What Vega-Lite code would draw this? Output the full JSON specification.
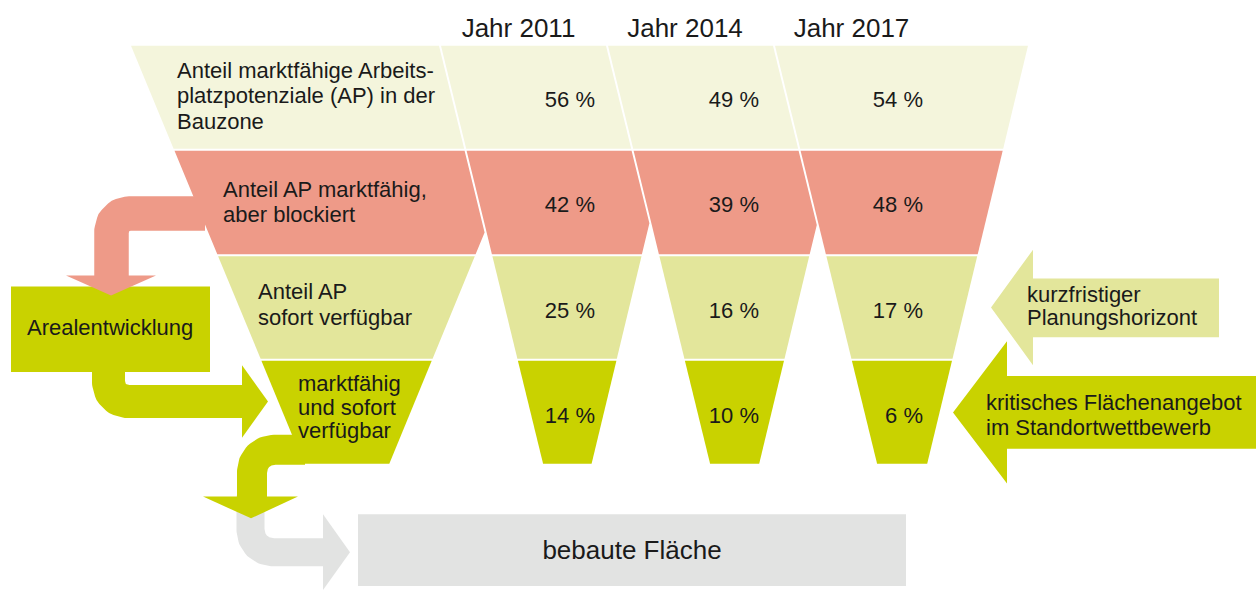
{
  "$schema": "https://vega.github.io/schema/vega-lite/v6.json",
  "width": 1258,
  "height": 590,
  "autosize": {"type": "fit", "contains": "padding"},
  "padding": 0,
  "background": "white",
  "config": {"view": {"stroke": null}, "text": {"font": "Liberation Sans", "color": "#1a1a1a"}},
  "datasets": {
    "pieces": [
      {"piece": "L1", "band": "b1", "y": 46, "x": 131, "x2": 439},
      {"piece": "L1", "band": "b1", "y": 149.5, "x": 173.6, "x2": 464.2},
      {"piece": "L2", "band": "b2", "y": 151.5, "x": 174.5, "x2": 464.6},
      {"piece": "L2", "band": "b2", "y": 233.6, "x": 208.3, "x2": 484.6},
      {"piece": "L2", "band": "b2", "y": 255.5, "x": 217.3, "x2": 475.6},
      {"piece": "L3", "band": "b3", "y": 257.5, "x": 218.1, "x2": 474.8},
      {"piece": "L3", "band": "b3", "y": 360.5, "x": 260.6, "x2": 432.6},
      {"piece": "L4", "band": "b4", "y": 362.5, "x": 261.4, "x2": 431.7},
      {"piece": "L4", "band": "b4", "y": 466, "x": 304, "x2": 389.3},
      {"piece": "A1", "band": "b1", "y": 46, "x": 441, "x2": 606},
      {"piece": "A1", "band": "b1", "y": 149.5, "x": 466.2, "x2": 631.2},
      {"piece": "A2", "band": "b2", "y": 151.5, "x": 466.6, "x2": 631.6},
      {"piece": "A2", "band": "b2", "y": 224.4, "x": 484.4, "x2": 649.4},
      {"piece": "A2", "band": "b2", "y": 255.5, "x": 491.9, "x2": 641.9},
      {"piece": "A3", "band": "b3", "y": 257.5, "x": 492.4, "x2": 641.5},
      {"piece": "A3", "band": "b3", "y": 360.5, "x": 517.4, "x2": 616.8},
      {"piece": "A4", "band": "b4", "y": 362.5, "x": 517.9, "x2": 616.4},
      {"piece": "A4", "band": "b4", "y": 466, "x": 543.1, "x2": 591.6},
      {"piece": "B1", "band": "b1", "y": 46, "x": 608, "x2": 773},
      {"piece": "B1", "band": "b1", "y": 149.5, "x": 633.2, "x2": 798.2},
      {"piece": "B2", "band": "b2", "y": 151.5, "x": 633.6, "x2": 798.6},
      {"piece": "B2", "band": "b2", "y": 226.1, "x": 651.8, "x2": 816.8},
      {"piece": "B2", "band": "b2", "y": 255.5, "x": 658.9, "x2": 809.7},
      {"piece": "B3", "band": "b3", "y": 257.5, "x": 659.4, "x2": 809.2},
      {"piece": "B3", "band": "b3", "y": 360.5, "x": 684.4, "x2": 784.5},
      {"piece": "B4", "band": "b4", "y": 362.5, "x": 684.9, "x2": 784},
      {"piece": "B4", "band": "b4", "y": 466, "x": 710.1, "x2": 759.2},
      {"piece": "C1", "band": "b1", "y": 46, "x": 775, "x2": 1028},
      {"piece": "C1", "band": "b1", "y": 149.5, "x": 800.2, "x2": 1003.2},
      {"piece": "C2", "band": "b2", "y": 151.5, "x": 800.6, "x2": 1002.7},
      {"piece": "C2", "band": "b2", "y": 255.5, "x": 825.9, "x2": 977.7},
      {"piece": "C3", "band": "b3", "y": 257.5, "x": 826.4, "x2": 977.2},
      {"piece": "C3", "band": "b3", "y": 360.5, "x": 851.4, "x2": 952.5},
      {"piece": "C4", "band": "b4", "y": 362.5, "x": 851.9, "x2": 952},
      {"piece": "C4", "band": "b4", "y": 466, "x": 877.1, "x2": 927.2}
    ],
    "boxes": [
      {"name": "Arealentwicklung", "band": "b4", "x": 11, "x2": 210, "y": 288, "y2": 374},
      {"name": "bebaute Fläche", "band": "grau", "x": 358, "x2": 906, "y": 517, "y2": 589}
    ],
    "vshapes": [
      {"shape": "grauHead", "band": "grau", "x": 323, "y": 517, "y2": 593},
      {"shape": "grauHead", "band": "grau", "x": 350, "y": 555, "y2": 555},
      {"shape": "green1Head", "band": "b4", "x": 242, "y": 367, "y2": 440},
      {"shape": "green1Head", "band": "b4", "x": 268, "y": 403.5, "y2": 403.5},
      {"shape": "kurz", "band": "b3", "x": 991, "y": 309, "y2": 309},
      {"shape": "kurz", "band": "b3", "x": 1033, "y": 251, "y2": 367},
      {"shape": "kurz", "band": "b3", "x": 1033.01, "y": 280, "y2": 339},
      {"shape": "kurz", "band": "b3", "x": 1219, "y": 280, "y2": 339},
      {"shape": "krit", "band": "b4", "x": 953, "y": 414.5, "y2": 414.5},
      {"shape": "krit", "band": "b4", "x": 1007, "y": 343, "y2": 486},
      {"shape": "krit", "band": "b4", "x": 1007.01, "y": 378, "y2": 451},
      {"shape": "krit", "band": "b4", "x": 1256, "y": 378, "y2": 451}
    ],
    "hheads": [
      {"shape": "salmonHead", "band": "b2", "y": 277, "x": 66, "x2": 156},
      {"shape": "salmonHead", "band": "b2", "y": 297, "x": 111, "x2": 111},
      {"shape": "green2Head", "band": "b4", "y": 499, "x": 203, "x2": 298},
      {"shape": "green2Head", "band": "b4", "y": 521, "x": 251, "x2": 251}
    ],
    "arrows": [
      {"arrow": "salmon", "band": "b2", "i": 0, "x": 205, "y": 214.5},
      {"arrow": "salmon", "band": "b2", "i": 1, "x": 129, "y": 214.5},
      {"arrow": "salmon", "band": "b2", "i": 2, "x": 120.25, "y": 216.8},
      {"arrow": "salmon", "band": "b2", "i": 3, "x": 113.8, "y": 223.25},
      {"arrow": "salmon", "band": "b2", "i": 4, "x": 111.5, "y": 232},
      {"arrow": "salmon", "band": "b2", "i": 5, "x": 111.5, "y": 280},
      {"arrow": "green1", "band": "b4", "i": 0, "x": 108.5, "y": 372},
      {"arrow": "green1", "band": "b4", "i": 1, "x": 108.5, "y": 385},
      {"arrow": "green1", "band": "b4", "i": 2, "x": 111, "y": 394.25},
      {"arrow": "green1", "band": "b4", "i": 3, "x": 117.75, "y": 401},
      {"arrow": "green1", "band": "b4", "i": 4, "x": 127, "y": 403.5},
      {"arrow": "green1", "band": "b4", "i": 5, "x": 244, "y": 403.5},
      {"arrow": "green2", "band": "b4", "i": 0, "x": 305, "y": 452},
      {"arrow": "green2", "band": "b4", "i": 1, "x": 274, "y": 452},
      {"arrow": "green2", "band": "b4", "i": 2, "x": 265.6, "y": 453.7},
      {"arrow": "green2", "band": "b4", "i": 3, "x": 258.4, "y": 458.4},
      {"arrow": "green2", "band": "b4", "i": 4, "x": 253.7, "y": 465.6},
      {"arrow": "green2", "band": "b4", "i": 5, "x": 252, "y": 474},
      {"arrow": "green2", "band": "b4", "i": 6, "x": 252, "y": 501},
      {"arrow": "grau", "band": "grau", "i": 0, "x": 250.5, "y": 498},
      {"arrow": "grau", "band": "grau", "i": 1, "x": 250.5, "y": 533},
      {"arrow": "grau", "band": "grau", "i": 2, "x": 252.2, "y": 541.4},
      {"arrow": "grau", "band": "grau", "i": 3, "x": 256.9, "y": 548.6},
      {"arrow": "grau", "band": "grau", "i": 4, "x": 264.1, "y": 553.3},
      {"arrow": "grau", "band": "grau", "i": 5, "x": 272.5, "y": 555},
      {"arrow": "grau", "band": "grau", "i": 6, "x": 325, "y": 555}
    ],
    "labels": [
      {"text": "Anteil marktfähige Arbeits-", "x": 177, "y": 78},
      {"text": "platzpotenziale (AP) in der", "x": 177, "y": 104},
      {"text": "Bauzone", "x": 177, "y": 130},
      {"text": "Anteil AP marktfähig,", "x": 223, "y": 198},
      {"text": "aber blockiert", "x": 223, "y": 223},
      {"text": "Anteil AP", "x": 258, "y": 301},
      {"text": "sofort verfügbar", "x": 258, "y": 327},
      {"text": "marktfähig", "x": 298, "y": 393},
      {"text": "und sofort", "x": 298, "y": 417},
      {"text": "verfügbar", "x": 298, "y": 440},
      {"text": "Arealentwicklung", "x": 27, "y": 337},
      {"text": "kurzfristiger", "x": 1027, "y": 304},
      {"text": "Planungshorizont", "x": 1027, "y": 327},
      {"text": "kritisches Flächenangebot", "x": 986, "y": 412},
      {"text": "im Standortwettbewerb", "x": 986, "y": 437}
    ],
    "titles": [
      {"text": "Jahr 2011", "x": 518.5, "y": 37},
      {"text": "Jahr 2014", "x": 685, "y": 37},
      {"text": "Jahr 2017", "x": 851.5, "y": 37},
      {"text": "bebaute Fläche", "x": 632, "y": 562}
    ],
    "werte": [
      {"Jahr": "2011", "Stufe": "b1", "Anteil": 56},
      {"Jahr": "2014", "Stufe": "b1", "Anteil": 49},
      {"Jahr": "2017", "Stufe": "b1", "Anteil": 54},
      {"Jahr": "2011", "Stufe": "b2", "Anteil": 42},
      {"Jahr": "2014", "Stufe": "b2", "Anteil": 39},
      {"Jahr": "2017", "Stufe": "b2", "Anteil": 48},
      {"Jahr": "2011", "Stufe": "b3", "Anteil": 25},
      {"Jahr": "2014", "Stufe": "b3", "Anteil": 16},
      {"Jahr": "2017", "Stufe": "b3", "Anteil": 17},
      {"Jahr": "2011", "Stufe": "b4", "Anteil": 14},
      {"Jahr": "2014", "Stufe": "b4", "Anteil": 10},
      {"Jahr": "2017", "Stufe": "b4", "Anteil": 6}
    ]
  },
  "resolve": {"scale": {"x": "independent", "y": "independent"}},
  "layer": [
    {
      "layer": [
        {
          "data": {"name": "pieces"},
          "mark": {"type": "area", "orient": "horizontal"},
          "encoding": {
            "y": {"field": "y", "type": "quantitative", "scale": {"domain": [0, 590], "nice": false, "zero": false, "reverse": true}, "axis": null},
            "x": {"field": "x", "type": "quantitative", "stack": null, "scale": {"domain": [0, 1258], "nice": false, "zero": false}, "axis": null},
            "x2": {"field": "x2"},
            "detail": {"field": "piece"},
            "color": {"field": "band", "type": "nominal", "scale": {"domain": ["b1", "b2", "b3", "b4", "grau"], "range": ["#F4F5DC", "#EE9A88", "#E3E69B", "#C9D200", "#E2E3E2"]}, "legend": null}
          }
        },
        {
          "data": {"name": "boxes"},
          "mark": {"type": "rect"},
          "encoding": {
            "x": {"field": "x", "type": "quantitative", "scale": {"domain": [0, 1258], "nice": false, "zero": false}, "axis": null},
            "x2": {"field": "x2"},
            "y": {"field": "y", "type": "quantitative", "scale": {"domain": [0, 590], "nice": false, "zero": false, "reverse": true}, "axis": null},
            "y2": {"field": "y2"},
            "color": {"field": "band", "type": "nominal", "legend": null}
          }
        },
        {
          "data": {"name": "arrows"},
          "transform": [{"filter": "datum.arrow === 'grau'"}],
          "mark": {"type": "line", "strokeWidth": 28, "strokeCap": "butt", "strokeJoin": "round"},
          "encoding": {
            "x": {"field": "x", "type": "quantitative", "scale": {"domain": [0, 1258], "nice": false, "zero": false}, "axis": null},
            "y": {"field": "y", "type": "quantitative", "scale": {"domain": [0, 590], "nice": false, "zero": false, "reverse": true}, "axis": null},
            "order": {"field": "i"},
            "color": {"field": "band", "type": "nominal", "legend": null}
          }
        },
        {
          "data": {"name": "vshapes"},
          "mark": {"type": "area", "orient": "vertical"},
          "encoding": {
            "x": {"field": "x", "type": "quantitative", "scale": {"domain": [0, 1258], "nice": false, "zero": false}, "axis": null},
            "y": {"field": "y", "type": "quantitative", "stack": null, "scale": {"domain": [0, 590], "nice": false, "zero": false, "reverse": true}, "axis": null},
            "y2": {"field": "y2"},
            "detail": {"field": "shape"},
            "color": {"field": "band", "type": "nominal", "legend": null}
          }
        },
        {
          "data": {"name": "arrows"},
          "transform": [{"filter": "datum.arrow === 'salmon'"}],
          "mark": {"type": "line", "strokeWidth": 34.5, "strokeCap": "butt", "strokeJoin": "round"},
          "encoding": {
            "x": {"field": "x", "type": "quantitative", "scale": {"domain": [0, 1258], "nice": false, "zero": false}, "axis": null},
            "y": {"field": "y", "type": "quantitative", "scale": {"domain": [0, 590], "nice": false, "zero": false, "reverse": true}, "axis": null},
            "order": {"field": "i"},
            "color": {"field": "band", "type": "nominal", "legend": null}
          }
        },
        {
          "data": {"name": "arrows"},
          "transform": [{"filter": "datum.arrow === 'green1'"}],
          "mark": {"type": "line", "strokeWidth": 33, "strokeCap": "butt", "strokeJoin": "round"},
          "encoding": {
            "x": {"field": "x", "type": "quantitative", "scale": {"domain": [0, 1258], "nice": false, "zero": false}, "axis": null},
            "y": {"field": "y", "type": "quantitative", "scale": {"domain": [0, 590], "nice": false, "zero": false, "reverse": true}, "axis": null},
            "order": {"field": "i"},
            "color": {"field": "band", "type": "nominal", "legend": null}
          }
        },
        {
          "data": {"name": "arrows"},
          "transform": [{"filter": "datum.arrow === 'green2'"}],
          "mark": {"type": "line", "strokeWidth": 30, "strokeCap": "butt", "strokeJoin": "round"},
          "encoding": {
            "x": {"field": "x", "type": "quantitative", "scale": {"domain": [0, 1258], "nice": false, "zero": false}, "axis": null},
            "y": {"field": "y", "type": "quantitative", "scale": {"domain": [0, 590], "nice": false, "zero": false, "reverse": true}, "axis": null},
            "order": {"field": "i"},
            "color": {"field": "band", "type": "nominal", "legend": null}
          }
        },
        {
          "data": {"name": "hheads"},
          "mark": {"type": "area", "orient": "horizontal"},
          "encoding": {
            "y": {"field": "y", "type": "quantitative", "scale": {"domain": [0, 590], "nice": false, "zero": false, "reverse": true}, "axis": null},
            "x": {"field": "x", "type": "quantitative", "stack": null, "scale": {"domain": [0, 1258], "nice": false, "zero": false}, "axis": null},
            "x2": {"field": "x2"},
            "detail": {"field": "shape"},
            "color": {"field": "band", "type": "nominal", "legend": null}
          }
        },
        {
          "data": {"name": "labels"},
          "mark": {"type": "text", "align": "left", "baseline": "alphabetic", "fontSize": 22},
          "encoding": {
            "x": {"field": "x", "type": "quantitative", "scale": {"domain": [0, 1258], "nice": false, "zero": false}, "axis": null},
            "y": {"field": "y", "type": "quantitative", "scale": {"domain": [0, 590], "nice": false, "zero": false, "reverse": true}, "axis": null},
            "text": {"field": "text"}
          }
        },
        {
          "data": {"name": "titles"},
          "mark": {"type": "text", "align": "center", "baseline": "alphabetic", "fontSize": 26},
          "encoding": {
            "x": {"field": "x", "type": "quantitative", "scale": {"domain": [0, 1258], "nice": false, "zero": false}, "axis": null},
            "y": {"field": "y", "type": "quantitative", "scale": {"domain": [0, 590], "nice": false, "zero": false, "reverse": true}, "axis": null},
            "text": {"field": "text"}
          }
        }
      ]
    },
    {
      "data": {"name": "werte"},
      "transform": [{"calculate": "datum.Anteil + ' %'", "as": "Beschriftung"}],
      "mark": {"type": "text", "align": "right", "baseline": "alphabetic", "fontSize": 22},
      "encoding": {
        "x": {"field": "Jahr", "type": "ordinal", "scale": {"type": "point", "domain": ["2011", "2014", "2017"], "range": [595, 923], "padding": 0}, "axis": null},
        "y": {"field": "Stufe", "type": "ordinal", "scale": {"type": "point", "domain": ["b1", "b2", "b3", "b4"], "range": [107, 423], "padding": 0}, "axis": null},
        "text": {"field": "Beschriftung"}
      }
    }
  ]
}
